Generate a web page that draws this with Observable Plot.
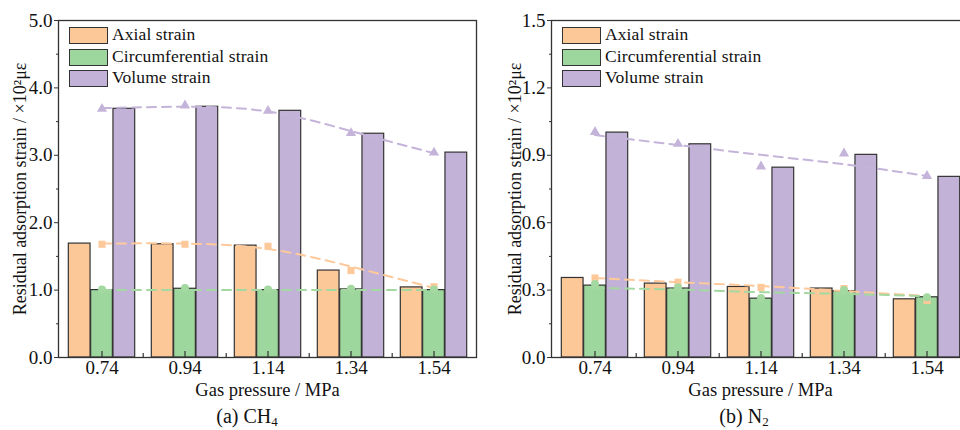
<!DOCTYPE html>
<html>
<head>
<meta charset="utf-8">
<script src="https://cdn.jsdelivr.net/npm/d3@7"></script>
<script src="https://cdn.jsdelivr.net/npm/@observablehq/plot@0.6"></script>
<style>
  html, body { margin: 0; padding: 0; background: #fff; }
  #wrap { position: relative; width: 960px; height: 430px; overflow: hidden; background: #fff;
          font-family: "Liberation Serif", "Times New Roman", serif; color: #111; }
  .panel { position: absolute; top: 0; height: 430px; }
  .panel svg { display: block; max-width: none !important; }
  .legend { position: absolute; top: 27px; }
  .legend .row { position: relative; height: 21.5px; }
  .legend .sw { position: absolute; left: 0; top: 0; width: 37px; height: 15px; border: 1.3px solid #333; box-sizing: content-box; }
  .legend .lab { position: absolute; left: 43px; top: -3px; font-size: 17.5px; white-space: nowrap; letter-spacing: 0.1px; }
  .caption { position: absolute; top: 405px; font-size: 20px; white-space: nowrap; transform: translateX(-50%); }
  .caption sub { font-size: 13px; vertical-align: -3px; }
</style>
</head>
<body>
<div id="wrap"></div>
<script>
// ---------- data ----------
const pressures = ["0.74", "0.94", "1.14", "1.34", "1.54"];
const seriesNames = ["Axial strain", "Circumferential strain", "Volume strain"];

// (a) CH4 — bars
const ch4Axial  = [1.69, 1.68, 1.66, 1.29, 1.04];
const ch4Circ   = [1.00, 1.02, 1.00, 1.01, 1.00];
const ch4Volume = [3.69, 3.72, 3.66, 3.32, 3.04];
// (a) CH4 — markers
const ch4AxialPts  = [1.68, 1.68, 1.65, 1.29, 1.05];
const ch4CircPts   = [1.01, 1.03, 1.01, 1.02, 1.01];
const ch4VolumePts = [3.69, 3.74, 3.66, 3.33, 3.04];
// (a) CH4 — dashed trend lines
const ch4AxialFit  = [1.69, 1.69, 1.61, 1.35, 1.03];
const ch4CircFit   = [1.00, 1.00, 1.00, 1.00, 1.00];
const ch4VolumeFit = [3.70, 3.72, 3.65, 3.36, 3.03];

// (b) N2 — bars
const n2Axial  = [0.354, 0.329, 0.314, 0.307, 0.259];
const n2Circ   = [0.320, 0.307, 0.262, 0.295, 0.268];
const n2Volume = [1.001, 0.949, 0.845, 0.902, 0.804];
// (b) N2 — markers
const n2AxialPts  = [0.354, 0.335, 0.312, 0.307, 0.254];
const n2CircPts   = [0.327, 0.312, 0.265, 0.300, 0.268];
const n2VolumePts = [1.004, 0.951, 0.850, 0.908, 0.808];
// (b) N2 — dashed trend lines
const n2AxialFit  = [0.354, 0.335, 0.318, 0.296, 0.274];
const n2CircFit   = [0.309, 0.302, 0.291, 0.283, 0.273];
const n2VolumeFit = [0.990, 0.946, 0.902, 0.860, 0.808];

// axis ticks
const ch4YTicks = [0, 1, 2, 3, 4, 5];
const ch4YMinor = [0.5, 1.5, 2.5, 3.5, 4.5];
const n2YTicks  = [0, 0.3, 0.6, 0.9, 1.2, 1.5];
const n2YMinor  = [0.15, 0.45, 0.75, 1.05, 1.35];

const xTitle = "Gas pressure / MPa";
const yTitle = "Residual adsorption strain / ×10²με";

// colours
const C_AX = "#FCC898", C_CI = "#9DD79D", C_VO = "#C3B2D8";
const C_AX_M = "#FDC99B", C_CI_M = "#A3D9A0", C_VO_M = "#C5B4DA";
const seriesColors = [C_AX, C_CI, C_VO];

// ---------- drawing ----------
const H = 400, MT = 20, MB = 43, INNER_W = 418;
const plotH = H - MT - MB;
const bw = INNER_W / pressures.length;
const barW = bw * 0.267;
const inset = (bw - barW) / 2;
const font = "'Liberation Serif', 'Times New Roman', serif";

function panel(cfg) {
  const rows = pressures.map((p, i) => ({
    p,
    a: cfg.axial[i], c: cfg.circ[i], v: cfg.vol[i],
    ap: cfg.axialPts[i], cp: cfg.circPts[i], vp: cfg.volPts[i],
    af: cfg.axialFit[i], cf: cfg.circFit[i], vf: cfg.volFit[i]
  }));
  const width = cfg.marginLeft + INNER_W + 4;
  const bar = (y, fill, dx) => Plot.barY(rows, {
    x: "p", y, fill, stroke: "#333", strokeWidth: 1.2,
    insetLeft: inset, insetRight: inset, dx
  });
  const dash = (y, stroke) => Plot.lineY(rows, {
    x: "p", y, stroke, strokeWidth: 2, strokeDasharray: "9,6", curve: "natural"
  });
  return Plot.plot({
    width, height: H,
    marginLeft: cfg.marginLeft, marginRight: 4, marginTop: MT, marginBottom: MB,
    style: { fontFamily: font, fontSize: "19px", color: "#111", background: "white", overflow: "visible" },
    x: { type: "band", domain: pressures, padding: 0 },
    y: { domain: cfg.yDomain },
    marks: [
      bar("a", C_AX, -barW),
      bar("c", C_CI, 0),
      bar("v", C_VO, barW),
      Plot.ruleX(pressures, { x: d => d, insetTop: plotH - 6, stroke: "#333", strokeWidth: 1.2 }),
      Plot.ruleX(pressures.slice(1), { x: d => d, dx: -bw / 2, insetTop: plotH - 4, stroke: "#333", strokeWidth: 1.2 }),
      dash("vf", C_VO_M),
      dash("af", C_AX_M),
      dash("cf", C_CI_M),
      Plot.dot(rows, { x: "p", y: "vp", symbol: "triangle", r: 3.8, fill: C_VO_M }),
      Plot.dot(rows, { x: "p", y: "ap", symbol: "square", r: 4, fill: C_AX_M }),
      Plot.dot(rows, { x: "p", y: "cp", symbol: "circle", r: 4, fill: C_CI_M }),
      Plot.axisY({
        ticks: cfg.yTicks, tickSize: 4, tickPadding: 2, stroke: "#333",
        tickFormat: d => d.toFixed(1), label: null
      }),
      Plot.axisY({
        ticks: [], tickSize: 0, fontSize: 18,
        label: yTitle, labelAnchor: "center", labelOffset: cfg.labelOffset, labelArrow: "none"
      }),
      Plot.axisY({ ticks: cfg.yMinor, tickSize: 2, stroke: "#333", tickFormat: () => "", label: null }),
      Plot.axisX({
        tickSize: 0, tickPadding: 3, label: null
      }),
      Plot.axisX({
        ticks: [], tickSize: 0, fontSize: 18.5,
        label: xTitle, labelAnchor: "center", labelOffset: 38, labelArrow: "none"
      }),
      Plot.frame({ stroke: "#333", strokeWidth: 1.3 })
    ]
  });
}

function legend(left) {
  const div = document.createElement("div");
  div.className = "legend";
  div.style.left = left + "px";
  seriesNames.forEach((name, i) => {
    const row = document.createElement("div");
    row.className = "row";
    const sw = document.createElement("div");
    sw.className = "sw";
    sw.style.background = seriesColors[i];
    const lab = document.createElement("div");
    lab.className = "lab";
    lab.textContent = name;
    row.appendChild(sw); row.appendChild(lab);
    div.appendChild(row);
  });
  return div;
}

const wrap = document.getElementById("wrap");

function addPanel(left, cfg, captionHTML, captionCenter) {
  const div = document.createElement("div");
  div.className = "panel";
  div.style.left = left + "px";
  div.style.width = (cfg.marginLeft + INNER_W + 4) + "px";
  div.appendChild(panel(cfg));
  div.appendChild(legend(cfg.marginLeft + 11));
  const cap = document.createElement("div");
  cap.className = "caption";
  cap.style.left = captionCenter + "px";
  cap.innerHTML = captionHTML;
  div.appendChild(cap);
  wrap.appendChild(div);
}

addPanel(0, {
  marginLeft: 58, labelOffset: 45, yDomain: [0, 5], yTicks: ch4YTicks, yMinor: ch4YMinor,
  axial: ch4Axial, circ: ch4Circ, vol: ch4Volume,
  axialPts: ch4AxialPts, circPts: ch4CircPts, volPts: ch4VolumePts,
  axialFit: ch4AxialFit, circFit: ch4CircFit, volFit: ch4VolumeFit
}, "(a) CH<sub>4</sub>", 247);

addPanel(480, {
  marginLeft: 71, labelOffset: 43, yDomain: [0, 1.5], yTicks: n2YTicks, yMinor: n2YMinor,
  axial: n2Axial, circ: n2Circ, vol: n2Volume,
  axialPts: n2AxialPts, circPts: n2CircPts, volPts: n2VolumePts,
  axialFit: n2AxialFit, circFit: n2CircFit, volFit: n2VolumeFit
}, "(b) N<sub>2</sub>", 264);
</script>
</body>
</html>
